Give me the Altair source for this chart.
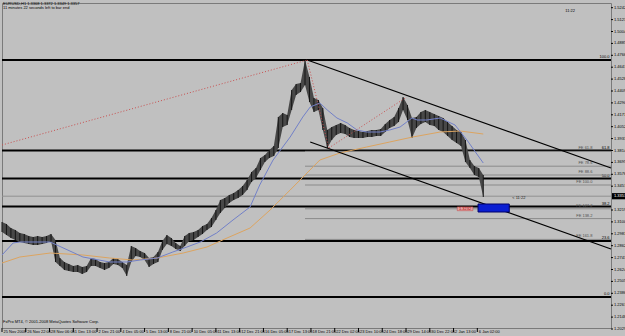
import altair as alt
import pandas as pd

# ---------------- data (EURUSD H1, sampled every 6 bars) ----------------
STEP = 6
hi = [1.3099,1.3079,1.3039,1.3019,1.2989,1.2979,1.2959,1.2949,1.2959,1.2949,
      1.2959,1.2979,1.2919,1.2739,1.2699,1.2679,1.2659,1.2669,1.2649,1.2659,
      1.2739,1.2729,1.2699,1.2689,1.2699,1.2739,1.2729,1.2699,1.2669,1.2859,
      1.2839,1.2809,1.2789,1.2739,1.2749,1.2799,1.2909,1.2969,1.2939,1.2889,
      1.2859,1.2959,1.2989,1.2999,1.3019,1.3059,1.3079,1.3139,1.3219,1.3319,
      1.3339,1.3369,1.3389,1.3419,1.3459,1.3519,1.3599,1.3639,1.3739,1.3769,
      1.3819,1.3859,1.4149,1.4189,1.4169,1.4419,1.4479,1.4489,1.4719,1.4549,
      1.4339,1.4319,1.4239,1.4019,1.4049,1.4069,1.4089,1.4069,1.4039,1.4019,
      1.4009,1.3999,1.4009,1.4019,1.4019,1.4029,1.4079,1.4119,1.4149,1.4239,
      1.4349,1.4269,1.4139,1.4149,1.4199,1.4219,1.4199,1.4179,1.4159,1.4139,
      1.4099,1.4059,1.4019,1.3999,1.3919,1.3719,1.3659,1.3639,1.3569]
lo = [1.2999,1.2969,1.2939,1.2919,1.2899,1.2889,1.2879,1.2869,1.2869,1.2879,
      1.2889,1.2909,1.2699,1.2659,1.2619,1.2609,1.2599,1.2599,1.2579,1.2599,
      1.2659,1.2659,1.2639,1.2619,1.2639,1.2679,1.2669,1.2639,1.2559,1.2699,
      1.2759,1.2749,1.2719,1.2649,1.2679,1.2699,1.2819,1.2879,1.2859,1.2829,
      1.2809,1.2859,1.2909,1.2919,1.2949,1.2979,1.3019,1.3049,1.3119,1.3189,
      1.3239,1.3289,1.3319,1.3339,1.3369,1.3419,1.3499,1.3539,1.3619,1.3699,
      1.3739,1.3759,1.3839,1.4049,1.4069,1.4219,1.4369,1.4399,1.4469,1.4299,
      1.4199,1.4219,1.4019,1.3839,1.3919,1.3969,1.3989,1.3979,1.3949,1.3939,
      1.3939,1.3939,1.3949,1.3949,1.3959,1.3959,1.3999,1.4039,1.4059,1.4099,
      1.4219,1.4119,1.3939,1.4039,1.4079,1.4099,1.4069,1.4059,1.4019,1.3999,
      1.3959,1.3919,1.3889,1.3859,1.3699,1.3639,1.3569,1.3549,1.3349]

fast_bar = [0,15,24,65,109,145,168,186,209,230,249,267,289,311,334,347,365,388,405,415,
            428,438,451,465,478,491,509,522,536,545,552,559,572,590,610,626,648]
fast_val = [1.2769,1.2889,1.2899,1.2899,1.2749,1.2699,1.2699,1.2719,1.2739,1.2799,
            1.2849,1.2899,1.2989,1.3119,1.3249,1.3469,1.3719,1.3949,1.4149,1.4249,
            1.4289,1.4219,1.4139,1.4089,1.4019,1.3999,1.3999,1.4019,1.4049,1.4099,
            1.4139,1.4119,1.4119,1.4139,1.4069,1.3919,1.3689]
slow_bar = [0,24,65,109,145,176,209,244,276,303,334,361,388,408,428,455,491,522,553,590,617,648]
slow_val = [1.2689,1.2749,1.2789,1.2769,1.2739,1.2719,1.2739,1.2789,1.2849,1.2939,1.3039,
            1.3219,1.3419,1.3569,1.3719,1.3789,1.3849,1.3899,1.3949,1.3999,1.4009,1.3979]

fib_labels = ["100.0", "61.8", "50.0", "38.2", "23.6", "0.0"]
fib_prices = [1.4719, 1.3814, 1.3534, 1.3254, 1.2908, 1.2349]

fe_labels = ["FE 61.8", "FE 78.6", "FE 88.6", "FE 100.0", "FE 127.2", "FE 138.2", "FE 161.8"]
fe_prices = [1.3805, 1.3657, 1.3569, 1.3469, 1.3231, 1.3133, 1.2925]

chan_seg = ["up", "up", "low", "low"]
chan_bar = [411, 820, 415, 820]
chan_val = [1.4719, 1.3639, 1.3899, 1.2829]

dot_seg = ["a", "a", "b", "b", "c", "c"]
dot_bar = [0, 411, 411, 440, 440, 545]
dot_val = [1.3869, 1.4719, 1.4719, 1.3839, 1.3839, 1.4349]

ytick_vals = [1.2029,1.2148,1.2267,1.2386,1.2505,1.2624,1.2743,1.2862,1.2981,1.3100,
              1.3219,1.3457,1.3576,1.3695,1.3814,1.3933,1.4052,1.4171,1.4290,1.4409,
              1.4528,1.4647,1.4766,1.4885,1.5004,1.5123,1.5242]

xtick_bars = [0,32,64,96,128,160,192,224,256,288,320,352,384,416,448,480,512,544,576,608,640]
xtick_labels = ["25 Nov 2008","26 Nov 22:00","28 Nov 06:00","1 Dec 13:00","2 Dec 21:00",
                "4 Dec 05:00","5 Dec 13:00","8 Dec 21:00","10 Dec 05:00","11 Dec 13:00",
                "12 Dec 21:00","16 Dec 05:00","17 Dec 13:00","18 Dec 21:00","22 Dec 02:00",
                "23 Dec 10:00","24 Dec 18:00","29 Dec 14:00","30 Dec 22:00","2 Jan 13:00",
                "6 Jan 02:00"]

bid = 1.3357
box_bar = [641, 683]
box_val = [1.3199, 1.3279]
tag_price = "1.3232"

FONT = "Liberation Sans"
FS = 4

# ---------------- frames ----------------
bars = pd.DataFrame({"bar": [i * STEP for i in range(len(hi))], "hi": hi, "lo": lo})
fast = pd.DataFrame({"bar": fast_bar, "v": fast_val})
slow = pd.DataFrame({"bar": slow_bar, "v": slow_val})
fib = pd.DataFrame({"lab": fib_labels, "p": fib_prices, "b0": [0] * 6, "b1": [820] * 6, "bl": [818] * 6})
fe = pd.DataFrame({"lab": fe_labels, "p": fe_prices, "b0": [408] * 7, "b1": [820] * 7, "bl": [795] * 7})
chan = pd.DataFrame({"seg": chan_seg, "bar": chan_bar, "v": chan_val})
dots = pd.DataFrame({"seg": dot_seg, "bar": dot_bar, "v": dot_val})
yt = pd.DataFrame({"p": ytick_vals, "lab": [f"{v:.4f}" for v in ytick_vals]})
xt = pd.DataFrame({"bar": xtick_bars, "lab": xtick_labels})
bidf = pd.DataFrame({"p": [bid], "ph": [bid + 0.0031], "pl": [bid - 0.0031],
                     "lab": [f"{bid:.4f}"], "b0": [0], "b1": [820]})
box = pd.DataFrame({"b0": [box_bar[0]], "b1": [box_bar[1]], "p0": [box_val[0]], "p1": [box_val[1]]})
tag = pd.DataFrame({"b0": [613], "b1": [634], "p0": [1.3212], "p1": [1.3250], "bm": [623.5],
                    "pm": [1.3231], "lab": [tag_price]})
timer = pd.DataFrame({"bar": [687], "p": [1.3339], "lab": ["<  11:22"]})

xs = alt.Scale(domain=[0, 820], nice=False, zero=False)
ys = alt.Scale(domain=[1.2039, 1.5289], nice=False, zero=False)


def X(f):
    return alt.X(f, type="quantitative", scale=xs, axis=None)


def Y(f):
    return alt.Y(f, type="quantitative", scale=ys, axis=None)


def txt(t, x, y, align="left", baseline="middle"):
    return alt.Chart(pd.DataFrame({"t": [t]})).mark_text(
        align=align, baseline=baseline, font=FONT, fontSize=FS, color="#000000"
    ).encode(x=alt.value(x), y=alt.value(y), text="t:N")


layers = []

# fib retracement levels
layers.append(alt.Chart(fib).mark_rule(color="#000000", strokeWidth=2).encode(
    x=X("b0"), x2="b1", y=Y("p")))
layers.append(alt.Chart(fib).mark_text(align="right", baseline="bottom", dy=-1, font=FONT,
                                       fontSize=FS, color="#000000").encode(
    x=X("bl"), y=Y("p"), text="lab:N"))
# fib expansion levels
layers.append(alt.Chart(fe).mark_rule(color="#8a8a8a", strokeWidth=1).encode(
    x=X("b0"), x2="b1", y=Y("p")))
layers.append(alt.Chart(fe).mark_text(align="right", baseline="bottom", dy=-1, font=FONT,
                                      fontSize=FS, color="#505050").encode(
    x=X("bl"), y=Y("p"), text="lab:N"))
# bid line
layers.append(alt.Chart(bidf).mark_rule(color="#909090", strokeWidth=1).encode(
    x=X("b0"), x2="b1", y=Y("p")))

# price bars
layers.append(alt.Chart(bars).mark_area(color="#484848", opacity=1, interpolate="linear").encode(
    x=X("bar"), y=Y("hi"), y2="lo"))
layers.append(alt.Chart(bars).mark_rule(color="#151515", strokeWidth=1).encode(
    x=X("bar"), y=Y("hi"), y2="lo"))

# moving averages
layers.append(alt.Chart(slow).mark_line(color="#dca460", strokeWidth=1).encode(x=X("bar"), y=Y("v")))
layers.append(alt.Chart(fast).mark_line(color="#7280c8", strokeWidth=1).encode(x=X("bar"), y=Y("v")))

# channel & trend lines
layers.append(alt.Chart(chan).mark_line(color="#000000", strokeWidth=1.3).encode(
    x=X("bar"), y=Y("v"), detail="seg:N"))
layers.append(alt.Chart(dots).mark_line(color="#c85050", strokeWidth=1, strokeDash=[1, 2]).encode(
    x=X("bar"), y=Y("v"), detail="seg:N"))

# target box & tag
layers.append(alt.Chart(box).mark_rect(color="#0a1ed2", stroke="#00006a", strokeWidth=1).encode(
    x=X("b0"), x2="b1", y=Y("p0"), y2="p1"))
layers.append(alt.Chart(tag).mark_rect(color="#e3a4a4", stroke="#c04040", strokeWidth=0.5).encode(
    x=X("b0"), x2="b1", y=Y("p0"), y2="p1"))
layers.append(alt.Chart(tag).mark_text(font=FONT, fontSize=FS, color="#b00000").encode(
    x=X("bm"), y=Y("pm"), text="lab:N"))
layers.append(alt.Chart(timer).mark_text(align="left", font=FONT, fontSize=FS, color="#202020").encode(
    x=X("bar"), y=Y("p"), text="lab:N"))

# right price scale
layers.append(alt.Chart(yt).mark_rule(color="#000000").encode(
    x=alt.value(609), x2=alt.value(611), y=Y("p")))
layers.append(alt.Chart(yt).mark_text(align="left", baseline="middle", font=FONT, fontSize=FS,
                                      color="#000000").encode(
    x=alt.value(612), y=Y("p"), text="lab:N"))
layers.append(alt.Chart(bidf).mark_rect(color="#000000").encode(
    x=alt.value(610), x2=alt.value(623), y=Y("ph"), y2="pl"))
layers.append(alt.Chart(bidf).mark_text(align="left", baseline="middle", font=FONT, fontSize=FS,
                                        color="#ffffff").encode(
    x=alt.value(612), y=Y("p"), text="lab:N"))

# time scale
layers.append(alt.Chart(xt).mark_rule(color="#000000").encode(
    x=X("bar"), y=alt.value(325), y2=alt.value(329)))
layers.append(alt.Chart(xt).mark_text(align="left", baseline="middle", dx=1.5, font=FONT, fontSize=FS,
                                      color="#000000").encode(
    x=X("bar"), y=alt.value(329), text="lab:N"))

# header / footer texts
layers.append(txt("EURUSD,H1  1.3368 1.3372 1.3349 1.3357", 1, -1.5, baseline="top"))
layers.append(txt("11 minutes 22 seconds left to bar end", 1, 3, baseline="top"))
layers.append(txt("11:22", 573, 8, align="right"))
layers.append(txt("FxPro MT4, \u00a9 2001-2008 MetaQuotes Software Corp.", 1, 319))

chart = alt.layer(*layers).properties(
    width=609, height=325, autosize="none", background="#c0c0c0",
    padding={"left": 2, "top": 3, "right": 14, "bottom": 8},
).configure_view(stroke="#7a7a7a", strokeWidth=1, fill="#c0c0c0")

chart.save("out.html", embed_options={"renderer": "svg", "actions": False})
